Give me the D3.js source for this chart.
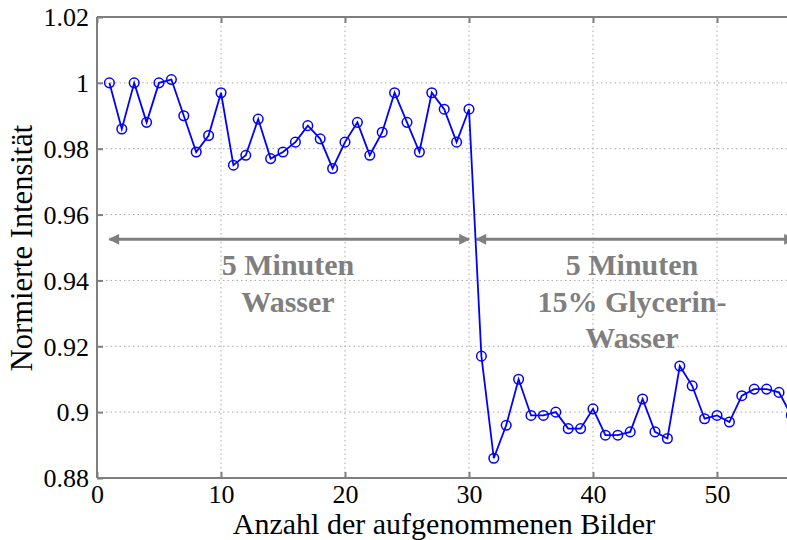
<!DOCTYPE html>
<html>
<head>
<meta charset="utf-8">
<script src="https://cdn.jsdelivr.net/npm/d3@7"></script>
<style>
  html, body { margin: 0; padding: 0; background: #fff; }
  svg { display: block; }
</style>
</head>
<body>
<svg id="chart" width="787" height="540"></svg>
<script>
// Normalised intensity per recorded image
const frames = d3.range(1, 57);
const intensity = [
  1.000, 0.986, 1.000, 0.988, 1.000, 1.001, 0.990, 0.979, 0.984, 0.997,
  0.975, 0.978, 0.989, 0.977, 0.979, 0.982, 0.987, 0.983, 0.974, 0.982,
  0.988, 0.978, 0.985, 0.997, 0.988, 0.979, 0.997, 0.992, 0.982, 0.992,
  0.917, 0.886, 0.896, 0.910, 0.899, 0.899, 0.900, 0.895, 0.895, 0.901,
  0.893, 0.893, 0.894, 0.904, 0.894, 0.892, 0.914, 0.908, 0.898, 0.899,
  0.897, 0.905, 0.907, 0.907, 0.906, 0.899
];
const xTicks = [0, 10, 20, 30, 40, 50];
const yTicks = [0.88, 0.9, 0.92, 0.94, 0.96, 0.98, 1, 1.02];

// Phase annotations: start frame, end frame, label lines
const phases = [
  { from: 1, to: 30, lines: ["5 Minuten", "Wasser"] },
  { from: 30.6, to: 56.2, lines: ["5 Minuten", "15% Glycerin-", "Wasser"] }
];
const arrowLevel = 0.9525;

const svg = d3.select("#chart");
const padL = 97, padT = 17, padB = 478;
const x = d3.scaleLinear().domain([0, 56]).range([padL, padL + 56 * 12.4]);
const y = d3.scaleLinear().domain([0.88, 1.02]).range([padB, padT]);

const axisGray = "#7f7f7f";
const serif = "'Liberation Serif', serif";

// clip to the plot area
const defs = svg.append("defs");
defs.append("clipPath").attr("id", "plotClip")
  .append("rect").attr("x", padL).attr("y", padT - 6)
  .attr("width", 787 - padL).attr("height", padB - padT + 12);

// grid lines
const grid = svg.append("g");
grid.selectAll("line.gx").data(xTicks.filter(d => d > 0)).join("line")
  .attr("class", "gx")
  .attr("x1", d => x(d)).attr("x2", d => x(d))
  .attr("y1", padT).attr("y2", padB)
  .attr("stroke", "#a8a8a8").attr("stroke-width", 1)
  .attr("stroke-dasharray", "1.5,3");
grid.selectAll("line.gy").data(yTicks.filter(d => d > 0.88 && d < 1.02)).join("line")
  .attr("class", "gy")
  .attr("x1", padL).attr("x2", 787)
  .attr("y1", d => y(d)).attr("y2", d => y(d))
  .attr("stroke", "#a8a8a8").attr("stroke-width", 1)
  .attr("stroke-dasharray", "1.5,3");

// axes
const xAxis = d3.axisBottom(x).tickValues(xTicks).tickSize(-6).tickPadding(10).tickFormat(d3.format("d"));
const yAxis = d3.axisLeft(y).tickValues(yTicks).tickSize(-6).tickPadding(8).tickFormat(d => String(+d.toFixed(2)));
const xTop = d3.axisTop(x).tickValues(xTicks).tickSize(-6).tickFormat("");

function styleAxis(g) {
  g.attr("font-family", serif);
  g.select(".domain").attr("stroke", axisGray).attr("stroke-width", 2);
  g.selectAll(".tick line").attr("stroke", axisGray).attr("stroke-width", 2);
  g.selectAll(".tick text").attr("fill", "#000")
    .attr("font-family", serif).attr("font-size", 26);
}
svg.append("g").attr("transform", `translate(0,${padB})`).call(xAxis).call(styleAxis)
  .call(g => g.select(".domain").attr("d", `M${padL},0H800`))
  .call(g => g.selectAll(".tick text").attr("y", 0).attr("dy", 0).attr("transform", "translate(0,25)"));
svg.append("g").attr("transform", `translate(0,${padT})`).call(xTop).call(styleAxis)
  .call(g => g.select(".domain").attr("d", `M${padL},0H800`));
svg.append("g").attr("transform", `translate(${padL},0)`).call(yAxis).call(styleAxis)
  .call(g => g.select(".domain").attr("d", `M0,${padB}V${padT}`))
  .call(g => g.selectAll(".tick text").attr("dy", "0.34em"));

// phase arrows
const arrowColor = "#7f7f7f";
defs.append("marker").attr("id", "head").attr("viewBox", "0 0 10 10")
  .attr("refX", 9).attr("refY", 5).attr("markerWidth", 4.4).attr("markerHeight", 3.6)
  .attr("orient", "auto-start-reverse").attr("markerUnits", "strokeWidth")
  .append("path").attr("d", "M0,0L10,5L0,10z").attr("fill", arrowColor);

const ann = svg.append("g");
ann.selectAll("line").data(phases).join("line")
  .attr("x1", d => x(d.from)).attr("x2", d => x(d.to))
  .attr("y1", y(arrowLevel)).attr("y2", y(arrowLevel))
  .attr("stroke", arrowColor).attr("stroke-width", 3)
  .attr("marker-start", "url(#head)").attr("marker-end", "url(#head)");

const labelX = [288, 632];
phases.forEach((p, i) => {
  const t = ann.append("text").attr("text-anchor", "middle")
    .attr("font-family", serif).attr("font-weight", "bold").attr("font-size", 30)
    .attr("fill", arrowColor);
  p.lines.forEach((ln, j) => {
    t.append("tspan").attr("x", labelX[i]).attr("y", 275 + j * 36.5).text(ln);
  });
});

// data series
const plot = svg.append("g").attr("clip-path", "url(#plotClip)");
const pts = frames.map((f, i) => [f, intensity[i]]);
plot.append("path").datum(pts)
  .attr("d", d3.line().x(d => x(d[0])).y(d => y(d[1])))
  .attr("fill", "none").attr("stroke", "#0000ff").attr("stroke-width", 1.8);
plot.selectAll("circle").data(pts).join("circle")
  .attr("cx", d => x(d[0])).attr("cy", d => y(d[1])).attr("r", 4.8)
  .attr("fill", "none").attr("stroke", "#0000ff").attr("stroke-width", 1.5);

// axis titles
svg.append("text").attr("x", padL + 347).attr("y", 534).attr("text-anchor", "middle")
  .attr("font-family", serif).attr("font-size", 30).text("Anzahl der aufgenommenen Bilder");
svg.append("text").attr("transform", "translate(32,248) rotate(-90)")
  .attr("font-family", serif).attr("font-size", 30.5).attr("text-anchor", "middle")
  .text("Normierte Intensität");
</script>
</body>
</html>
